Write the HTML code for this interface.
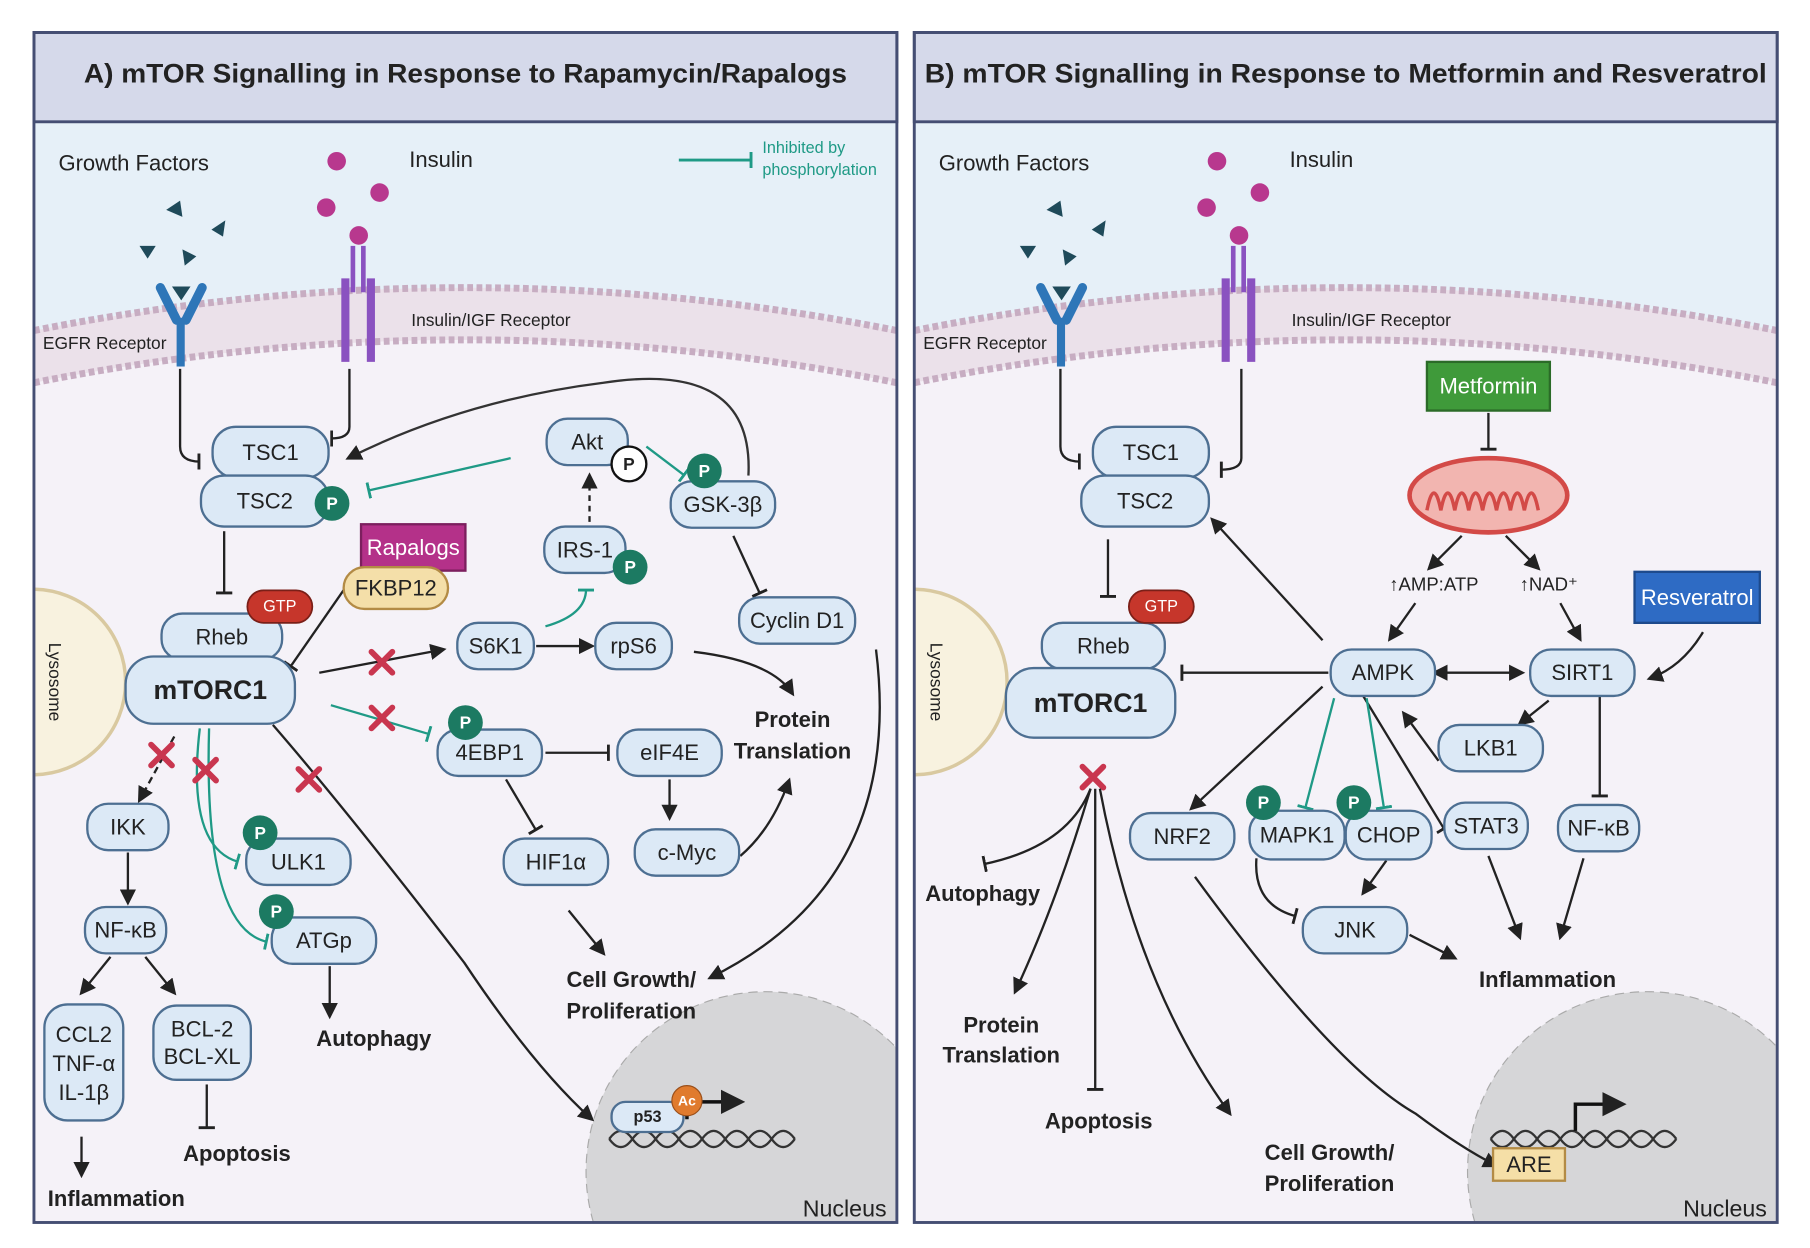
<!DOCTYPE html>
<html><head><meta charset="utf-8"><style>
html,body{margin:0;padding:0;background:#fff;overflow:hidden;width:1810px;height:1248px}
svg{display:block}
text{font-family:"Liberation Sans Narrow","Liberation Sans",sans-serif;fill:#222}
.n{fill:#dce9f6;stroke:#4d6f92;stroke-width:2}
.t{font-size:19px;text-anchor:middle;dominant-baseline:central}
.b{font-size:19px;font-weight:bold;text-anchor:middle}
.l{stroke:#222;stroke-width:2;fill:none}
.g{stroke:#1f9a86;stroke-width:2;fill:none}
</style></head><body>
<svg width="1810" height="1248" viewBox="0 0 1560 1076" xmlns="http://www.w3.org/2000/svg">
<defs>
<marker id="ar" viewBox="0 0 10 10" refX="8" refY="5" markerWidth="7" markerHeight="7" orient="auto"><path d="M0,0L10,5L0,10z" fill="#222"/></marker>
<marker id="ars" viewBox="0 0 10 10" refX="2" refY="5" markerWidth="7" markerHeight="7" orient="auto-start-reverse"><path d="M0,0L10,5L0,10z" fill="#222"/></marker>
<marker id="tb" viewBox="0 0 4 14" refX="2" refY="7" markerWidth="4" markerHeight="14" orient="auto" markerUnits="userSpaceOnUse"><rect x="0" y="0" width="2.5" height="14" fill="#222"/></marker>
<marker id="tg" viewBox="0 0 4 14" refX="2" refY="7" markerWidth="4" markerHeight="14" orient="auto" markerUnits="userSpaceOnUse"><rect x="0" y="0" width="2.5" height="14" fill="#1f9a86"/></marker>
<clipPath id="cA"><rect x="30" y="105" width="742" height="948"/></clipPath>
<clipPath id="cB"><rect x="789" y="105" width="742" height="948"/></clipPath>
<g id="mem">
<rect x="29" y="200" width="744" height="860" fill="#f5f2f8"/>
<path d="M29,105 L773,105 L773,285 Q401,211 29,285 Z" fill="#e6f0f8"/>
<path d="M29,285 Q401,211 773,285 L773,330 Q401,256 29,330 Z" fill="#ebe1ea"/>
<path d="M29,285 Q401,211 773,285" stroke="#c7adc2" stroke-width="6" stroke-dasharray="5 3" fill="none"/>
<path d="M29,330 Q401,256 773,330" stroke="#c7adc2" stroke-width="6" stroke-dasharray="5 3" fill="none"/>
<!-- EGFR -->
<path d="M138,248 L152,276 M174,248 L160,276" stroke="#2e76b8" stroke-width="8" stroke-linecap="round"/>
<rect x="152" y="274" width="7" height="42" fill="#2e76b8"/>
<path d="M148,247L164,247L156,259z" fill="#1f4a5a"/>
<!-- insulin receptor -->
<rect x="294" y="240" width="7" height="72" fill="#8a52c0"/><rect x="316" y="240" width="7" height="72" fill="#8a52c0"/>
<rect x="302" y="212" width="4" height="40" fill="#8a52c0"/><rect x="311" y="212" width="4" height="40" fill="#8a52c0"/>
<circle cx="309" cy="203" r="8" fill="#b8388e"/>
<circle cx="290" cy="139" r="8" fill="#b8388e"/><circle cx="327" cy="166" r="8" fill="#b8388e"/><circle cx="281" cy="179" r="8" fill="#b8388e"/>
<path d="M143,181l12,-8l2,14z M182,198l12,-8l-2,14z M120,212l14,0l-7,11z M157,215l12,6l-10,8z" fill="#1f4a5a"/>
<text x="115" y="147" style="font-size:19px" text-anchor="middle">Growth Factors</text>
<text x="380" y="144" style="font-size:19px" text-anchor="middle">Insulin</text>
<text x="423" y="281" style="font-size:15px" text-anchor="middle">Insulin/IGF Receptor</text>
<text x="90" y="301" style="font-size:15px" text-anchor="middle">EGFR Receptor</text>
</g>
</defs>

<!-- Panel backgrounds -->
<g clip-path="url(#cA)"><use href="#mem" x="0"/>
<circle cx="660" cy="1010" r="155" fill="#d6d6d8" stroke="#aaa" stroke-dasharray="8 5"/>
<circle cx="28" cy="588" r="80" fill="#f8f2df" stroke="#d9c9a0" stroke-width="3"/>
</g>
<g clip-path="url(#cB)"><use href="#mem" x="759"/>
<circle cx="1420" cy="1010" r="155" fill="#d6d6d8" stroke="#aaa" stroke-dasharray="8 5"/>
<circle cx="788" cy="588" r="80" fill="#f8f2df" stroke="#d9c9a0" stroke-width="3"/>
</g>
<rect x="29" y="28" width="744" height="77" fill="#d5d9ea" stroke="#454e73" stroke-width="2.5"/>
<rect x="29" y="28" width="744" height="1026" fill="none" stroke="#454e73" stroke-width="2.5"/>
<rect x="788" y="28" width="744" height="77" fill="#d5d9ea" stroke="#454e73" stroke-width="2.5"/>
<rect x="788" y="28" width="744" height="1026" fill="none" stroke="#454e73" stroke-width="2.5"/>
<text x="72" y="71" style="font-size:23px;font-weight:bold" textLength="658" lengthAdjust="spacingAndGlyphs">A) mTOR Signalling in Response to Rapamycin/Rapalogs</text>
<text x="797" y="71" style="font-size:23px;font-weight:bold" textLength="726" lengthAdjust="spacingAndGlyphs">B) mTOR Signalling in Response to  Metformin and Resveratrol</text>
<text x="36" y="594" style="font-size:15px" transform="rotate(90 42 594)" text-anchor="middle">Lysosome</text>
<text x="796" y="594" style="font-size:15px" transform="rotate(90 802 594)" text-anchor="middle">Lysosome</text>

<!-- legend -->
<path d="M585,138 L648,138" stroke="#1f9a86" stroke-width="2.5" marker-end="url(#tg)"/>
<text x="657" y="132" style="font-size:14px;fill:#1f9a86">Inhibited by</text>
<text x="657" y="151" style="font-size:14px;fill:#1f9a86">phosphorylation</text>

<!-- connectors A -->
<g class="l">
<path d="M155,318 L155,385 Q155,398 172,398" marker-end="url(#tb)"/>
<path d="M301,318 L301,368 Q301,378 285,378" marker-end="url(#tb)"/>
<path d="M645,410 Q650,310 520,330 Q400,345 300,395" stroke="#333" marker-end="url(#ar)"/>
<path d="M193,458 L193,512" marker-end="url(#tb)"/>
<path d="M300,503 L250,575" marker-end="url(#tb)"/>
<path d="M508,450 L508,410" stroke-dasharray="5 4" marker-end="url(#ar)"/>
<path d="M632,462 L655,512" marker-end="url(#tb)"/>
<path d="M275,580 L382,560" marker-end="url(#ar)"/>
<path d="M462,557 L510,557" marker-end="url(#ar)"/>
<path d="M598,562 Q665,570 683,598" marker-end="url(#ar)"/>
<path d="M470,649 L525,649" marker-end="url(#tb)"/>
<path d="M436,672 L462,716" marker-end="url(#tb)"/>
<path d="M577,672 L577,705" marker-end="url(#ar)"/>
<path d="M638,738 Q665,715 680,673" marker-end="url(#ar)"/>
<path d="M490,785 L520,822" marker-end="url(#ar)"/>
<path d="M755,560 Q780,760 612,843" marker-end="url(#ar)"/>
<path d="M150,635 L120,690" stroke-dasharray="6 4" marker-end="url(#ar)"/>
<path d="M110,735 L110,778" marker-end="url(#ar)"/>
<path d="M95,825 L70,856" marker-end="url(#ar)"/>
<path d="M125,825 L150,856" marker-end="url(#ar)"/>
<path d="M178,935 L178,973" marker-end="url(#tb)"/>
<path d="M70,980 L70,1013" marker-end="url(#ar)"/>
<path d="M284,833 L284,876" marker-end="url(#ar)"/>
<path d="M235,625 Q300,700 400,830 Q460,920 510,965" marker-end="url(#ar)"/>
</g>
<g class="g">
<path d="M440,395 L317,423" marker-end="url(#tg)"/>
<path d="M557,385 L590,410" marker-end="url(#tg)"/>
<path d="M470,540 Q505,530 505,508" marker-end="url(#tg)"/>
<path d="M285,608 L370,633" marker-end="url(#tg)"/>
<path d="M172,628 Q160,730 205,743" marker-end="url(#tg)"/>
<path d="M180,628 Q175,800 230,812" marker-end="url(#tg)"/>
</g>

<!-- nodes A -->
<g>
<rect class="n" x="183" y="368" width="100" height="44" rx="20"/><text class="t" x="233" y="390">TSC1</text>
<rect class="n" x="173" y="410" width="110" height="44" rx="20"/><text class="t" x="228" y="432">TSC2</text>
<circle cx="286" cy="434" r="15" fill="#1c7a62"/><text class="t" x="286" y="434" style="fill:#fff;font-size:15px;font-weight:bold">P</text>
<rect x="311" y="452" width="90" height="40" fill="#b43189" stroke="#7c1f5e" stroke-width="2"/><text class="t" x="356" y="472" style="fill:#fff">Rapalogs</text>
<rect x="296" y="489" width="90" height="36" rx="18" fill="#f4dfa9" stroke="#b38b45" stroke-width="2"/><text class="t" x="341" y="507">FKBP12</text>
<rect class="n" x="139" y="529" width="104" height="40" rx="18"/><text class="t" x="191" y="549">Rheb</text>
<rect x="213" y="509" width="56" height="28" rx="14" fill="#c6362b" stroke="#7a1f18" stroke-width="1.5"/><text class="t" x="241" y="523" style="fill:#fff;font-size:14px">GTP</text>
<rect class="n" x="108" y="566" width="146" height="58" rx="24"/><text class="t" x="181" y="595" style="font-size:23px;font-weight:bold">mTORC1</text>
<rect class="n" x="471" y="361" width="70" height="40" rx="18"/><text class="t" x="506" y="381">Akt</text>
<circle cx="542" cy="400" r="15" fill="#fff" stroke="#111" stroke-width="2"/><text class="t" x="542" y="400" style="font-size:15px;font-weight:bold">P</text>
<rect class="n" x="578" y="415" width="90" height="40" rx="18"/><text class="t" x="623" y="435">GSK-3β</text>
<circle cx="607" cy="406" r="15" fill="#1c7a62"/><text class="t" x="607" y="406" style="fill:#fff;font-size:15px;font-weight:bold">P</text>
<rect class="n" x="469" y="454" width="70" height="40" rx="18"/><text class="t" x="504" y="474">IRS-1</text>
<circle cx="543" cy="489" r="15" fill="#1c7a62"/><text class="t" x="543" y="489" style="fill:#fff;font-size:15px;font-weight:bold">P</text>
<rect class="n" x="637" y="515" width="100" height="40" rx="18"/><text class="t" x="687" y="535">Cyclin D1</text>
<rect class="n" x="394" y="537" width="66" height="40" rx="18"/><text class="t" x="427" y="557">S6K1</text>
<rect class="n" x="513" y="537" width="66" height="40" rx="18"/><text class="t" x="546" y="557">rpS6</text>
<rect class="n" x="377" y="629" width="90" height="40" rx="18"/><text class="t" x="422" y="649">4EBP1</text>
<circle cx="401" cy="623" r="15" fill="#1c7a62"/><text class="t" x="401" y="623" style="fill:#fff;font-size:15px;font-weight:bold">P</text>
<rect class="n" x="532" y="629" width="90" height="40" rx="18"/><text class="t" x="577" y="649">eIF4E</text>
<rect class="n" x="547" y="715" width="90" height="40" rx="18"/><text class="t" x="592" y="735">c-Myc</text>
<rect class="n" x="434" y="723" width="90" height="40" rx="18"/><text class="t" x="479" y="743">HIF1α</text>
<rect class="n" x="75" y="693" width="70" height="40" rx="18"/><text class="t" x="110" y="713">IKK</text>
<rect class="n" x="73" y="782" width="70" height="40" rx="18"/><text class="t" x="108" y="802">NF-κB</text>
<rect class="n" x="212" y="723" width="90" height="40" rx="18"/><text class="t" x="257" y="743">ULK1</text>
<circle cx="224" cy="718" r="15" fill="#1c7a62"/><text class="t" x="224" y="718" style="fill:#fff;font-size:15px;font-weight:bold">P</text>
<rect class="n" x="234" y="791" width="90" height="40" rx="18"/><text class="t" x="279" y="811">ATGp</text>
<circle cx="238" cy="786" r="15" fill="#1c7a62"/><text class="t" x="238" y="786" style="fill:#fff;font-size:15px;font-weight:bold">P</text>
<rect class="n" x="38" y="866" width="68" height="100" rx="20"/><text class="t" x="72" y="892">CCL2</text><text class="t" x="72" y="917">TNF-α</text><text class="t" x="72" y="942">IL-1β</text>
<rect class="n" x="132" y="867" width="84" height="64" rx="20"/><text class="t" x="174" y="887">BCL-2</text><text class="t" x="174" y="911">BCL-XL</text>
</g>
<text class="b" x="683" y="627">Protein</text><text class="b" x="683" y="654">Translation</text>
<text class="b" x="544" y="851">Cell Growth/</text><text class="b" x="544" y="878">Proliferation</text>
<text class="b" x="322" y="902">Autophagy</text>
<text class="b" x="204" y="1001">Apoptosis</text>
<text class="b" x="100" y="1040">Inflammation</text>
<text x="728" y="1049" style="font-size:20px" text-anchor="middle">Nucleus</text>
<!-- DNA A -->
<path d="M525,982 q10,-14 20,0 t20,0 t20,0 t20,0 t20,0 t20,0 t20,0 t20,0 M525,982 q10,14 20,0 t20,0 t20,0 t20,0 t20,0 t20,0 t20,0 t20,0" stroke="#333" stroke-width="2" fill="none"/>
<path d="M592,965 L592,950 L638,950" stroke="#111" stroke-width="3" fill="none" marker-end="url(#ar)"/>
<rect class="n" x="527" y="950" width="62" height="26" rx="12"/><text class="t" x="558" y="963" style="font-size:14px;font-weight:bold">p53</text>
<circle cx="592" cy="949" r="13" fill="#e07b2e" stroke="#9a4f1a"/><text class="t" x="592" y="949" style="fill:#fff;font-size:12px;font-weight:bold">Ac</text>
<!-- X marks -->
<g stroke="#c9364f" stroke-width="5" stroke-linecap="round">
<path d="M320,562l18,18M338,562l-18,18"/><path d="M320,610l18,18M338,610l-18,18"/>
<path d="M130,642l18,18M148,642l-18,18"/><path d="M168,655l18,18M186,655l-18,18"/>
<path d="M257,663l18,18M275,663l-18,18"/><path d="M933,661l18,18M951,661l-18,18"/>
</g>

<!-- Panel B -->
<g class="l">
<path d="M914,318 L914,385 Q914,398 931,398" marker-end="url(#tb)"/>
<path d="M1070,318 L1070,395 Q1070,405 1052,405" marker-end="url(#tb)"/>
<path d="M1283,356 L1283,388" marker-end="url(#tb)"/>
<path d="M955,465 L955,515" marker-end="url(#tb)"/>
<path d="M1140,552 L1045,448" marker-end="url(#ar)"/>
<path d="M1260,462 L1232,490" marker-end="url(#ar)"/>
<path d="M1298,462 L1326,490" marker-end="url(#ar)"/>
<path d="M1220,520 L1198,551" marker-end="url(#ar)"/>
<path d="M1345,520 L1362,551" marker-end="url(#ar)"/>
<path d="M1468,545 Q1450,575 1422,585" marker-end="url(#ar)"/>
<path d="M1145,580 L1018,580" marker-end="url(#tb)"/>
<path d="M1245,580 L1312,580" marker-start="url(#ars)" marker-end="url(#ar)"/>
<path d="M1335,604 L1310,624" marker-end="url(#ar)"/>
<path d="M1240,656 L1210,615" marker-end="url(#ar)"/>
<path d="M1379,600 L1379,687" marker-end="url(#tb)"/>
<path d="M1140,592 L1027,697" marker-end="url(#ar)"/>
<path d="M1175,600 L1245,715" marker-end="url(#tb)"/>
<path d="M1083,740 Q1080,780 1117,790" marker-end="url(#tb)"/>
<path d="M1195,742 L1175,770" marker-end="url(#ar)"/>
<path d="M1215,806 L1254,826" marker-end="url(#ar)"/>
<path d="M1283,738 L1310,808" marker-end="url(#ar)"/>
<path d="M1365,740 L1345,808" marker-end="url(#ar)"/>
<path d="M1030,756 Q1150,920 1220,960 Q1260,990 1290,1005" marker-end="url(#ar)"/>
<path d="M940,680 Q920,730 848,745" marker-end="url(#tb)"/>
<path d="M940,680 Q910,780 875,855" marker-end="url(#ar)"/>
<path d="M944,680 L944,940" marker-end="url(#tb)"/>
<path d="M948,680 Q980,850 1060,960" marker-end="url(#ar)"/>
</g>
<g class="g">
<path d="M1150,602 L1125,697" marker-end="url(#tg)"/>
<path d="M1178,602 L1193,697" marker-end="url(#tg)"/>
</g>
<rect x="1230" y="312" width="106" height="42" fill="#3f9a3a" stroke="#2b6b28" stroke-width="2"/><text class="t" x="1283" y="333" style="fill:#fff">Metformin</text>
<ellipse cx="1283" cy="427" rx="68" ry="32" fill="#f2b5b0" stroke="#d34a47" stroke-width="4"/>
<path d="M1230,440 q6,-30 12,0 q6,-30 12,0 q6,-30 12,0 q6,-30 12,0 q6,-30 12,0 q6,-30 12,0 q6,-30 12,0 q6,-30 12,0" stroke="#d34a47" stroke-width="3" fill="none"/>
<text x="1236" y="509" style="font-size:16px" text-anchor="middle">↑AMP:ATP</text>
<text x="1335" y="509" style="font-size:16px" text-anchor="middle">↑NAD⁺</text>
<rect x="1409" y="493" width="108" height="44" fill="#2e6bc4" stroke="#1d4a8c" stroke-width="2"/><text class="t" x="1463" y="515" style="fill:#fff">Resveratrol</text>
<g>
<rect class="n" x="942" y="368" width="100" height="44" rx="20"/><text class="t" x="992" y="390">TSC1</text>
<rect class="n" x="932" y="410" width="110" height="44" rx="20"/><text class="t" x="987" y="432">TSC2</text>
<rect class="n" x="898" y="537" width="106" height="40" rx="18"/><text class="t" x="951" y="557">Rheb</text>
<rect x="973" y="509" width="56" height="28" rx="14" fill="#c6362b" stroke="#7a1f18" stroke-width="1.5"/><text class="t" x="1001" y="523" style="fill:#fff;font-size:14px">GTP</text>
<rect class="n" x="867" y="576" width="146" height="60" rx="24"/><text class="t" x="940" y="606" style="font-size:23px;font-weight:bold">mTORC1</text>
<rect class="n" x="1147" y="560" width="90" height="40" rx="18"/><text class="t" x="1192" y="580">AMPK</text>
<rect class="n" x="1319" y="560" width="90" height="40" rx="18"/><text class="t" x="1364" y="580">SIRT1</text>
<rect class="n" x="1240" y="625" width="90" height="40" rx="18"/><text class="t" x="1285" y="645">LKB1</text>
<rect class="n" x="974" y="701" width="90" height="40" rx="18"/><text class="t" x="1019" y="721">NRF2</text>
<rect class="n" x="1077" y="699" width="82" height="42" rx="18"/><text class="t" x="1118" y="720">MAPK1</text>
<rect class="n" x="1160" y="699" width="74" height="42" rx="18"/><text class="t" x="1197" y="720">CHOP</text>
<circle cx="1089" cy="692" r="15" fill="#1c7a62"/><text class="t" x="1089" y="692" style="fill:#fff;font-size:15px;font-weight:bold">P</text>
<circle cx="1167" cy="692" r="15" fill="#1c7a62"/><text class="t" x="1167" y="692" style="fill:#fff;font-size:15px;font-weight:bold">P</text>
<rect class="n" x="1245" y="692" width="72" height="40" rx="18"/><text class="t" x="1281" y="712">STAT3</text>
<rect class="n" x="1343" y="694" width="70" height="40" rx="18"/><text class="t" x="1378" y="714">NF-κB</text>
<rect class="n" x="1123" y="782" width="90" height="40" rx="18"/><text class="t" x="1168" y="802">JNK</text>
</g>
<text class="b" x="847" y="777">Autophagy</text>
<text class="b" x="863" y="890">Protein</text><text class="b" x="863" y="916">Translation</text>
<text class="b" x="947" y="973">Apoptosis</text>
<text class="b" x="1146" y="1000">Cell Growth/</text><text class="b" x="1146" y="1027">Proliferation</text>
<text class="b" x="1334" y="851">Inflammation</text>
<text x="1487" y="1049" style="font-size:20px" text-anchor="middle">Nucleus</text>
<path d="M1285,982 q10,-14 20,0 t20,0 t20,0 t20,0 t20,0 t20,0 t20,0 t20,0 M1285,982 q10,14 20,0 t20,0 t20,0 t20,0 t20,0 t20,0 t20,0 t20,0" stroke="#333" stroke-width="2" fill="none"/>
<path d="M1358,975 L1358,952 L1398,952" stroke="#111" stroke-width="3" fill="none" marker-end="url(#ar)"/>
<rect x="1287" y="990" width="62" height="28" fill="#f5dfa7" stroke="#b38b45" stroke-width="2"/><text class="t" x="1318" y="1004">ARE</text>
</svg>
</body></html>
